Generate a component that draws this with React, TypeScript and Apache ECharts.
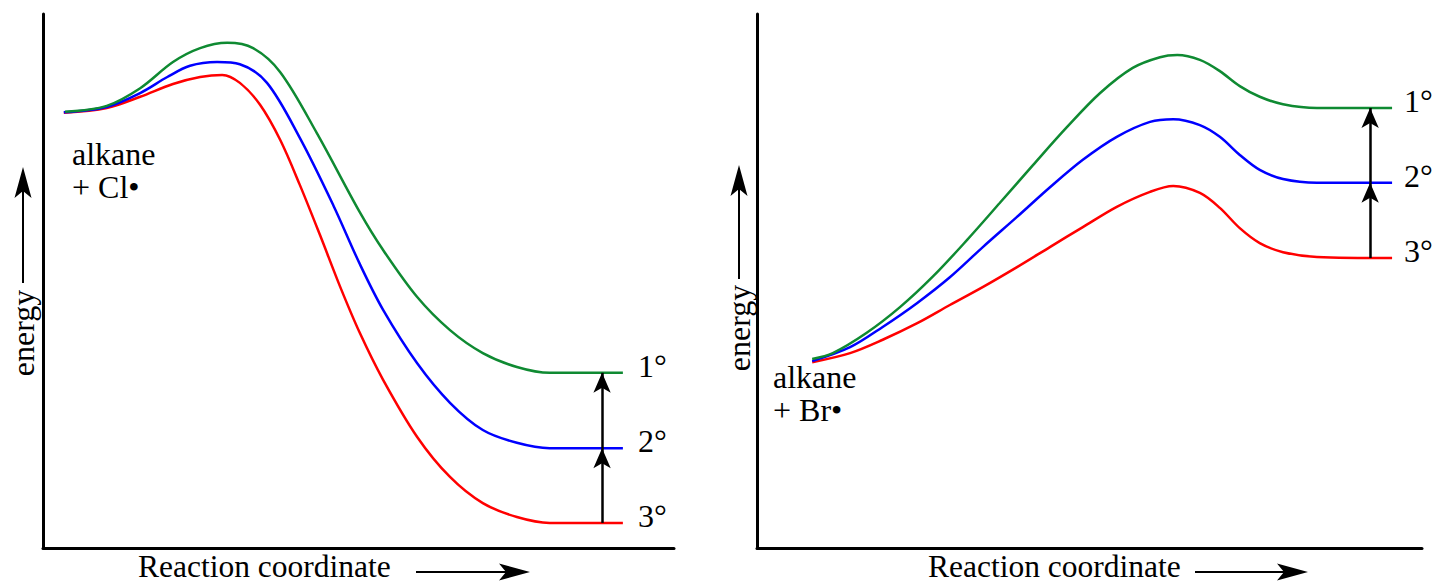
import React, { useEffect, useRef } from "react";
import * as echarts from "echarts";

// ---- Data (x: reaction coordinate 0-100, y: energy 0-100) ----
const clPrimary: number[][] = [
  [3.5, 81.7], [10.1, 82.8], [15.4, 86.1], [20.6, 91.0], [24.9, 93.6], [29.2, 94.6],
  [33.3, 93.6], [37.6, 89.1], [43.4, 77.7], [50.2, 62.9], [53.9, 55.8], [59.3, 47.0],
  [64.5, 40.8], [69.7, 36.5], [75.1, 33.9], [80.3, 32.8], [91.9, 32.8],
];
const clSecondary: number[][] = [
  [3.3, 81.6], [10.1, 82.6], [15.4, 85.2], [19.7, 88.2], [23.3, 90.3], [27.6, 91.0],
  [31.2, 90.6], [35.5, 87.1], [40.7, 76.8], [46.0, 64.2], [50.2, 53.2], [53.9, 44.6],
  [59.3, 34.6], [64.5, 27.2], [69.7, 22.1], [75.1, 19.7], [80.3, 18.7], [91.9, 18.7],
];
const clTertiary: number[][] = [
  [3.3, 81.5], [10.1, 82.4], [15.4, 84.5], [20.6, 86.9], [24.9, 88.2], [28.4, 88.6],
  [31.2, 87.1], [34.4, 83.0], [37.6, 76.4], [40.7, 68.0], [43.9, 58.6], [47.1, 48.9],
  [50.2, 40.3], [53.9, 31.5], [59.3, 20.8], [64.5, 13.3], [69.7, 8.4], [75.1, 5.8],
  [80.3, 4.7], [91.9, 4.7],
];
const brPrimary: number[][] = [
  [8.3, 35.4], [11.4, 36.5], [16.5, 40.3], [21.5, 45.1], [26.5, 50.9], [31.6, 57.7],
  [36.5, 64.6], [41.5, 71.7], [46.6, 78.8], [51.6, 85.2], [56.5, 89.9], [60.6, 91.9],
  [63.2, 92.3], [66.6, 91.4], [69.6, 89.3], [72.6, 86.5], [75.6, 84.5], [79.1, 83.1],
  [84.2, 82.4], [95.5, 82.4],
];
const brSecondary: number[][] = [
  [8.3, 35.0], [14.0, 37.6], [18.9, 41.4], [24.1, 45.9], [29.0, 50.7], [34.0, 56.4],
  [39.1, 62.0], [44.1, 67.6], [49.0, 72.7], [54.1, 77.0], [59.1, 79.8], [62.6, 80.3],
  [66.6, 79.2], [69.6, 77.0], [72.6, 73.6], [75.6, 70.8], [79.1, 69.1], [84.2, 68.4],
  [95.5, 68.4],
];
const brTertiary: number[][] = [
  [8.3, 34.8], [14.0, 36.5], [18.9, 39.0], [24.1, 42.1], [29.0, 45.5], [34.0, 48.9],
  [39.1, 52.6], [44.1, 56.4], [49.0, 60.1], [54.1, 63.9], [59.1, 66.7], [62.6, 67.8],
  [66.6, 66.5], [69.6, 63.7], [72.6, 59.9], [75.6, 57.1], [79.1, 55.4], [84.2, 54.5],
  [95.5, 54.3],
];
const levelLabels = ["1°", "2°", "3°"];
const clArrowX = 88.6;
const brArrowX = 92.2;
const reactantLabels = [["alkane", "+ Cl•"], ["alkane", "+ Br•"]];
const axisTitleX = "Reaction coordinate";
const axisTitleY = "energy";

const FONT = "Liberation Serif";
const GREEN = "#0f8a32";
const BLUE = "#0000ff";
const RED = "#ff0000";

const last = (a: number[][]) => a[a.length - 1][1];

function arrowUp(x: number, tipY: number, tailY: number) {
  return [
    { type: "line", shape: { x1: x, y1: tailY, x2: x, y2: tipY + 20 }, style: { stroke: "#000", lineWidth: 2 } },
    {
      type: "polygon",
      shape: { points: [[x, tipY], [x - 8.5, tipY + 31], [x, tipY + 24], [x + 8.5, tipY + 31]] },
      style: { fill: "#000" },
    },
  ];
}
function arrowRight(y: number, tailX: number, tipX: number) {
  return [
    { type: "line", shape: { x1: tailX, y1: y, x2: tipX - 20, y2: y }, style: { stroke: "#000", lineWidth: 2 } },
    {
      type: "polygon",
      shape: { points: [[tipX, y], [tipX - 31, y - 8.5], [tipX - 24, y], [tipX - 31, y + 8.5]] },
      style: { fill: "#000" },
    },
  ];
}
function txt(text: string, x: number, y: number, extra: any = {}) {
  const { align, lineHeight, fontSize, ...rest } = extra;
  return {
    type: "text",
    x,
    y,
    ...rest,
    style: {
      text,
      fontSize: fontSize || 32,
      fontFamily: FONT,
      lineHeight: lineHeight || 32,
      fill: "#000",
      align: align || "left",
      verticalAlign: "middle",
    },
  };
}

function lineSeries(data: number[][], color: string, idx: number, label: string, mark?: number[][]) {
  const s: any = {
    type: "line",
    xAxisIndex: idx,
    yAxisIndex: idx,
    data,
    smooth: 0.33,
    showSymbol: false,
    symbol: "none",
    lineStyle: { color, width: 2.5 },
    endLabel: {
      show: true,
      formatter: label,
      fontSize: 32,
      fontFamily: FONT,
      color: "#000",
      distance: idx === 0 ? 15 : 12,
      offset: [0, -7],
    },
    silent: true,
    z: 3,
  };
  if (mark) {
    s.markLine = {
      silent: true,
      symbol: ["none", "arrow"],
      symbolSize: [13, 20],
      label: { show: false },
      lineStyle: { color: "#000", width: 2.5, type: "solid" },
      data: [[{ coord: mark[0] }, { coord: mark[1] }]],
      z: 4,
    };
  }
  return s;
}

export default function App() {
  const ref = useRef<HTMLDivElement>(null);
  useEffect(() => {
    document.body.style.margin = "0";
    const chart = echarts.init(ref.current!, null, { renderer: "svg" });
    const axisBase = {
      type: "value",
      min: 0,
      max: 100,
      axisLine: { show: true, onZero: false, lineStyle: { color: "#000", width: 3 } },
      axisTick: { show: false },
      axisLabel: { show: false },
      splitLine: { show: false },
    };
    chart.setOption({
      animation: false,
      backgroundColor: "#fff",
      textStyle: { fontFamily: FONT },
      grid: [
        { left: 43, width: 631, top: 14, bottom: 36 },
        { left: 757, width: 665, top: 14, bottom: 36 },
      ],
      xAxis: [{ ...axisBase, gridIndex: 0 }, { ...axisBase, gridIndex: 1 }],
      yAxis: [{ ...axisBase, gridIndex: 0 }, { ...axisBase, gridIndex: 1 }],
      series: [
        lineSeries(clTertiary, RED, 0, levelLabels[2]),
        lineSeries(clSecondary, BLUE, 0, levelLabels[1], [[clArrowX, last(clTertiary)], [clArrowX, last(clSecondary)]]),
        lineSeries(clPrimary, GREEN, 0, levelLabels[0], [[clArrowX, last(clSecondary)], [clArrowX, last(clPrimary)]]),
        lineSeries(brTertiary, RED, 1, levelLabels[2]),
        lineSeries(brSecondary, BLUE, 1, levelLabels[1], [[brArrowX, last(brTertiary)], [brArrowX, last(brSecondary)]]),
        lineSeries(brPrimary, GREEN, 1, levelLabels[0], [[brArrowX, last(brSecondary)], [brArrowX, last(brPrimary)]]),
      ],
      graphic: [
        txt(reactantLabels[0][0], 72, 154),
        txt(reactantLabels[0][1], 72, 187),
        txt(reactantLabels[1][0], 773, 377),
        txt(reactantLabels[1][1], 773, 410),
        txt(axisTitleX, 138, 566, { lineHeight: 22, fontSize: 31.5 }),
        txt(axisTitleX, 928, 566, { lineHeight: 22, fontSize: 31.5 }),
        txt(axisTitleY, 23, 333, { rotation: Math.PI / 2, align: "center" }),
        txt(axisTitleY, 739, 328, { rotation: Math.PI / 2, align: "center" }),
        ...arrowRight(572, 416, 530),
        ...arrowRight(572, 1195, 1308),
        ...arrowUp(23, 167, 283),
        ...arrowUp(739, 165, 279),
      ],
    });
    return () => chart.dispose();
  }, []);
  return <div ref={ref} style={{ width: 1434, height: 584 }} />;
}
